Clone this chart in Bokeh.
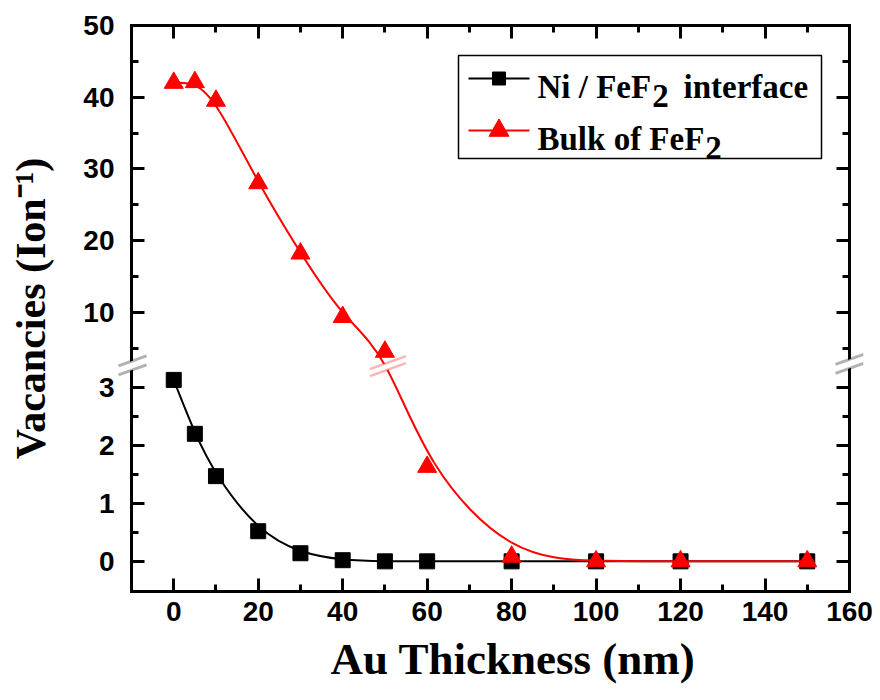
import numpy as np
from bokeh.plotting import figure
from bokeh.models import Range1d, LinearAxis, FixedTicker, PolyAnnotation
from bokeh.core.properties import value
from bokeh.embed import file_html
from bokeh.resources import INLINE

# ---- data -------------------------------------------------------------
# Au capping thickness (nm)
thickness = [0, 5, 10, 20, 30, 40, 50, 60, 80, 100, 120, 150]
# vacancies per ion at the Ni / FeF2 interface
interface_vac = [3.13, 2.20, 1.47, 0.52, 0.14, 0.02, 0.0, 0.0, 0.0, 0.0, 0.0, 0.0]
# vacancies per ion in the bulk of FeF2
bulk_vac = [42.0, 42.1, 39.5, 28.0, 18.2, 9.35, 4.5, 1.63, 0.08, 0.0, 0.0, 0.0]

x_major = [0, 20, 40, 60, 80, 100, 120, 140, 160]
x_minor = [-10, 10, 30, 50, 70, 90, 110, 130, 150]
y_major_low = [0, 1, 2, 3]
y_minor_low = [0.5, 1.5, 2.5]
y_major_high = [10, 20, 30, 40, 50]
y_minor_high = [5, 15, 25, 35, 45]

x_title = "\u00a0\u00a0\u00a0\u00a0Au Thickness (nm)"
y_title = "Vacancies (Ion\u207b\u00b9)"
legend_entries = [("Ni / FeF", "2", "interface"), ("Bulk of FeF", "2")]

# ---- broken y scale ---------------------------------------------------
# lower segment is drawn in its own units; the upper segment is compressed
BREAK_LOW = 3.39      # top of the lower segment
BREAK_HIGH = 2.68     # bottom of the upper segment
HIGH_SCALE = 0.1237   # upper units -> lower units


def to_axis(v):
    v = np.asarray(v, dtype=float)
    return np.where(v <= BREAK_LOW, v, BREAK_LOW + (v - BREAK_HIGH) * HIGH_SCALE)


X_LO, X_HI = -10.0, 160.0
Y_LO = -0.52
Y_HI = float(to_axis(50.0))

W, H = 880, 700
# axis box in pixels; the plot frame is a little wider so break marks
# sitting across the y axes are not clipped
AX_L, AX_R, AX_T, AX_B = 131, 849, 25, 591
PAD = 14
SX = (AX_R - AX_L) / (X_HI - X_LO)
SY = (AX_B - AX_T) / (Y_HI - Y_LO)


def px_x(px):
    return X_LO + (px - AX_L) / SX


def px_y(py):
    return Y_LO + (AX_B - py) / SY


def x_px(x):
    return AX_L + (x - X_LO) * SX


def y_px(y):
    return AX_B - (y - Y_LO) * SY


def bspline_bezier(xs, ys):
    """Uniform cubic B-spline (clamped ends) as Bezier segments."""
    def pad(a):
        a = np.asarray(a, dtype=float)
        return np.r_[a[0], a[0], a, a[-1], a[-1]]
    out = {}
    for key, a in (("x", pad(xs)), ("y", pad(ys))):
        p0, p1, p2, p3 = a[:-3], a[1:-2], a[2:-1], a[3:]
        out[key + "0"] = (p0 + 4 * p1 + p2) / 6
        out["c" + key + "0"] = (2 * p1 + p2) / 3
        out["c" + key + "1"] = (p1 + 2 * p2) / 3
        out[key + "1"] = (p1 + 4 * p2 + p3) / 6
    return out


p = figure(width=W, height=H, output_backend="svg", toolbar_location=None,
           x_range=Range1d(px_x(AX_L - PAD), px_x(AX_R + PAD)),
           y_range=Range1d(Y_LO, Y_HI),
           x_axis_location=None, y_axis_location=None,
           min_border_left=AX_L - PAD, min_border_right=W - AX_R - PAD,
           min_border_top=AX_T, min_border_bottom=H - AX_B)
p.grid.grid_line_color = None
p.outline_line_color = None
p.background_fill_color = "white"
p.border_fill_color = "white"

# ---- axes ---------------------------------------------------------------
x_ticker = FixedTicker(ticks=x_major, minor_ticks=x_minor)
y_ticks = [float(v) for v in to_axis(y_major_low)] + [float(v) for v in to_axis(y_major_high)]
y_minor = [float(v) for v in to_axis(y_minor_low)] + [float(v) for v in to_axis(y_minor_high)]
y_ticker = FixedTicker(ticks=y_ticks, minor_ticks=y_minor)
y_labels = {t: str(v) for t, v in zip(y_ticks, y_major_low + y_major_high)}


def style_rule(ax):
    ax.axis_line_width = 3
    ax.axis_line_cap = "square"
    ax.axis_line_color = "black"
    ax.major_tick_in = 13
    ax.major_tick_out = 0
    ax.minor_tick_in = 7
    ax.minor_tick_out = 0
    ax.major_tick_line_width = 3
    ax.minor_tick_line_width = 3
    ax.major_tick_line_color = "black"
    ax.minor_tick_line_color = "black"
    return ax


def style_labels(ax, title_size):
    ax.major_label_text_font = "Liberation Sans"
    ax.major_label_text_font_style = "bold"
    ax.major_label_text_font_size = "28px"
    ax.major_label_text_color = "black"
    ax.axis_label_text_font = "Liberation Serif"
    ax.axis_label_text_font_style = "bold"
    ax.axis_label_text_font_size = title_size
    ax.axis_label_text_color = "black"
    return ax


def hide_labels(ax):
    ax.major_label_text_font_size = "1px"
    ax.major_label_text_color = None
    ax.major_label_standoff = 0
    return ax


# bottom axis: rule, ticks, tick labels and title
bottom = LinearAxis(ticker=x_ticker, axis_label=x_title, bounds=(X_LO, X_HI))
style_labels(style_rule(bottom), "45px")
bottom.major_label_standoff = 10
bottom.axis_label_standoff = 10
p.add_layout(bottom, "below")

top = hide_labels(style_rule(LinearAxis(ticker=x_ticker, bounds=(X_LO, X_HI))))
p.add_layout(top, "above")

# left side: tick labels and title sit on the frame edge, the rule and ticks
# are drawn at x = X_LO inside the slightly wider frame
left_text = LinearAxis(ticker=y_ticker, axis_label=y_title)
style_labels(left_text, "42px")
left_text.axis_line_color = None
left_text.major_tick_line_color = None
left_text.minor_tick_line_color = None
left_text.major_tick_in = 0
left_text.major_tick_out = 0
left_text.minor_tick_in = 0
left_text.minor_tick_out = 0
left_text.major_label_overrides = y_labels
left_text.major_label_standoff = 17 - PAD
left_text.axis_label_standoff = 26
p.add_layout(left_text, "left")

left_rule = hide_labels(style_rule(LinearAxis(ticker=y_ticker, fixed_location=X_LO)))
p.add_layout(left_rule, "left")

right = hide_labels(style_rule(LinearAxis(ticker=y_ticker, fixed_location=X_HI)))
p.add_layout(right, "right")

# ---- series -------------------------------------------------------------
u_interface = to_axis(interface_vac)
u_bulk = to_axis(bulk_vac)

p.bezier(**bspline_bezier(thickness, u_interface), line_color="black", line_width=2)
p.scatter(thickness, u_interface, marker="square", size=15,
          fill_color="black", line_color="black")

p.bezier(**bspline_bezier(thickness, u_bulk), line_color="red", line_width=2)
p.scatter(thickness, u_bulk, marker="triangle", size=19,
          fill_color="red", line_color="red")


# ---- break marks --------------------------------------------------------
def break_mark(cx, cy, half, gap, cover, color, lw, slope=0.36):
    p.add_layout(PolyAnnotation(
        xs=[px_x(cx - cover), px_x(cx + cover), px_x(cx + cover), px_x(cx - cover)],
        ys=[px_y(cy - gap / 2 + cover * slope), px_y(cy - gap / 2 - cover * slope),
            px_y(cy + gap / 2 - cover * slope), px_y(cy + gap / 2 + cover * slope)],
        fill_color="white", fill_alpha=1.0, line_alpha=0.0, level="overlay"))
    for off in (-gap / 2, gap / 2):
        p.add_layout(PolyAnnotation(
            xs=[px_x(cx - half), px_x(cx + half)],
            ys=[px_y(cy + off + half * slope), px_y(cy + off - half * slope)],
            fill_alpha=0.0, line_color=color, line_width=lw, level="overlay"))


break_py = y_px(BREAK_LOW)
break_mark(AX_L + 1, break_py + 0.5, 14, 9, 6, "black", 3)
break_mark(AX_R, break_py - 1, 14, 9, 6, "black", 3)

# the bulk curve crosses the break at the knot of its last upper-segment point
i_up = max(i for i, v in enumerate(bulk_vac) if v > BREAK_LOW)
knot_x = (thickness[i_up - 1] + 4 * thickness[i_up] + thickness[i_up + 1]) / 6
knot_u = (u_bulk[i_up - 1] + 4 * u_bulk[i_up] + u_bulk[i_up + 1]) / 6
break_mark(x_px(knot_x) + 3, y_px(knot_u) + 1, 18, 7, 8, "red", 2.5)

# ---- legend -------------------------------------------------------------
p.quad(left=[px_x(458)], right=[px_x(821)], top=[px_y(55)], bottom=[px_y(158)],
       fill_color="white", line_color="black", line_width=1.5)

rows = [(78, "black", "square", 13), (130, "red", "triangle", 20)]
for row_y, color, marker, size in rows:
    p.line([px_x(468), px_x(529)], [px_y(row_y), px_y(row_y)], line_color=color, line_width=2)
    p.scatter([px_x(498.5)], [px_y(row_y)], marker=marker, size=size,
              fill_color=color, line_color=color)

FS = 33
text_style = dict(text_font=value("Liberation Serif"), text_font_style="bold",
                  text_font_size=f"{FS}px", text_color="black",
                  text_baseline="alphabetic", text_align="left")
# advance widths (em) of the leading words, Times/Liberation Serif Bold
lead_em = [3.444, 5.056]
for (row_base, entry, em) in zip((86, 138), legend_entries, lead_em):
    x0 = 537
    p.text(x=[px_x(x0)], y=[px_y(row_base)], text=[entry[0]], **text_style)
    p.text(x=[px_x(x0 + em * FS + 1)], y=[px_y(row_base + 9)], text=[entry[1]], **text_style)
    if len(entry) > 2:
        p.text(x=[px_x(683)], y=[px_y(row_base)], text=[entry[2]], **text_style)

open("out.html", "w").write(file_html(p, INLINE))
